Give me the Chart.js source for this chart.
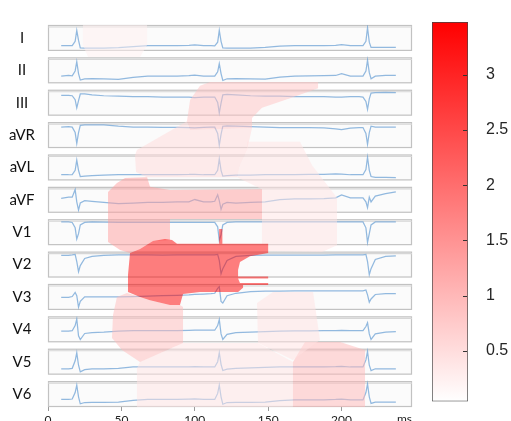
<!DOCTYPE html>
<html>
<head>
<meta charset="utf-8">
<script src="https://cdn.jsdelivr.net/npm/chart.js@4.4.1/dist/chart.umd.min.js"></script>
<style>
  html, body { margin: 0; padding: 0; background: #fff; overflow: hidden; }
  #wrap { position: relative; width: 511px; height: 421px; overflow: hidden; }
  #ecg { position: absolute; left: 0; top: 0; }
  #cbar { position: absolute; left: 420px; top: 0; }
</style>
</head>
<body>
<div id="wrap">
  <canvas id="ecg" width="420" height="430"></canvas>
  <canvas id="cbar" width="91" height="421"></canvas>
</div>
<script>
// 12-lead ECG with attribution segments on top, plus a colour bar
const leadNames = ['I', 'II', 'III', 'aVR', 'aVL', 'aVF', 'V1', 'V2', 'V3', 'V4', 'V5', 'V6'];
const xTicks = [0, 50, 100, 150, 200];

// sample times (ms) shared by all leads
const timeMs = [9, 14, 16.5, 18.5, 19.6, 20.8, 22, 25, 30, 38, 48, 58, 68, 78, 88, 96, 100, 106, 111, 113.6,
  115.6, 116.7, 117.9, 119.1, 122, 128, 138, 148, 158, 168, 178, 188, 196, 200, 206, 212, 214.6, 216.6,
  217.7, 218.9, 220.1, 223, 230, 237];

// lead amplitudes (mV)
const leadI = [0, 0, 0, 0.5, 1.75, 0.6, -0.25, -0.28, -0.28, -0.28, -0.22, -0.1, 0, 0, 0.02, 0.05, 0.08, 0, 0, -0.02,
  0.4, 1.75, 0.5, -0.25, -0.28, -0.28, -0.28, -0.2, -0.05, 0, 0, 0.02, 0.05, 0.12, 0, 0, 0, 0.5, 2.05, 0.4, -0.2, -0.18, -0.18, -0.18];
const leadII = [0, 0.1, 0.05, 0.6, 1.67, 0.3, -0.45, -0.3, -0.28, -0.3, -0.38, -0.15, 0, 0.02, 0.02, 0.05, 0.12, 0.02, 0, 0,
  0.5, 1.45, 0.3, -0.5, -0.3, -0.28, -0.3, -0.35, -0.1, 0.02, 0.03, 0.05, 0.08, 0.3, 0, 0.02, 0.02, 0.6, 1.85, 0.4, -0.3, 0, 0.1, 0.1];
const leadIII = [0, 0, -0.05, -0.5, -1.43, -0.6, 0.15, 0.15, 0.05, -0.05, -0.1, -0.15, -0.15, -0.2, -0.2, -0.2, -0.25, -0.2, -0.2, -0.2,
  -0.8, -2.0, -0.9, 0.05, 0.1, 0.05, -0.05, -0.1, -0.1, -0.15, -0.15, -0.15, -0.2, -0.2, -0.15, -0.15, -0.2, -0.7, -1.6, -0.4, 0.25, 0.3, 0.32, 0.3];
const leadAVR = [0, 0.05, 0, -0.6, -1.8, -0.6, 0.2, 0.25, 0.25, 0.25, 0.1, 0, 0, -0.03, -0.03, -0.05, -0.08, -0.02, 0, 0,
  -0.7, -2.0, -0.8, 0.1, 0.15, 0.1, 0.05, 0, -0.05, -0.05, -0.05, -0.08, -0.2, -0.28, -0.1, -0.05, -0.05, -0.7, -1.9, -0.6, 0.1, 0, 0, 0];
const leadAVL = [0, 0, 0.02, 0.5, 1.67, 0.5, -0.2, -0.15, -0.1, -0.05, 0, 0, 0.02, 0.02, 0.02, 0.03, 0.05, 0, 0, 0,
  0.5, 1.83, 0.5, -0.15, -0.1, -0.05, -0.03, 0, 0.02, 0.02, 0.03, 0.03, 0.1, 0.08, 0, 0, 0, 0.6, 2.0, 0.5, -0.2, -0.3, -0.3, -0.33];
const leadAVF = [0, 0.1, 0.1, 0.75, -0.3, -1.0, -0.4, -0.2, -0.25, -0.35, -0.45, -0.4, -0.35, -0.35, -0.3, -0.3, -0.1, -0.3, -0.3, -0.25,
  0.3, -0.2, -0.95, -0.5, -0.35, -0.4, -0.35, -0.3, -0.1, -0.05, -0.05, -0.02, 0.05, 0.3, 0.05, 0.05, 0.05, -0.3, -0.8, 0.1, -0.3, 0.2, 0.4, 0.55];
const leadV1 = [0, 0, -0.05, -0.6, -1.75, -1.2, -0.3, -0.05, 0, -0.02, -0.05, -0.05, -0.05, -0.05, -0.05, -0.05, -0.05, -0.05, -0.05, -0.05,
  -0.5, -1.9, -1.3, -0.3, -0.05, 0, 0, 0, 0, 0, 0, 0, 0, 0, 0, 0, 0, -0.6, -2.1, -1.2, -0.3, 0, 0, 0];
const leadV2 = [0, 0, 0.05, 0.1, -0.6, -1.6, -1.0, -0.3, -0.1, 0, 0.05, 0.05, 0.05, 0.03, 0.05, 0.05, 0.05, 0.05, 0.05, 0.05,
  0.1, -0.5, -1.8, -1.3, -0.5, -0.1, 0, 0.02, 0.02, 0.02, 0.02, 0.02, 0.05, 0.05, 0.05, 0.05, 0.05, 0.1, -0.6, -1.9, -1.3, -0.4, -0.1, -0.05];
const leadV3 = [0, 0, 0.1, 0.6, 0.2, -1.2, -0.5, 0.05, 0.05, 0.05, 0.05, 0.1, 0.15, 0.2, 0.25, 0.3, 0.35, 0.4, 0.45, 0.5,
  1.1, 1.3, -0.5, -0.7, 0.2, 0.5, 0.7, 0.75, 0.75, 0.78, 0.78, 0.8, 0.8, 0.8, 0.78, 0.78, 0.8, 0.9, 0.3, -0.6, -0.2, 0.35, 0.45, 0.45];
const leadV4 = [0, 0, 0.05, 0.6, 1.3, -0.5, -0.9, -0.25, -0.15, -0.1, 0, 0.05, 0.05, 0.05, 0.05, 0.08, 0.1, 0.1, 0.1, 0.1,
  0.6, 1.25, -0.3, -0.9, -0.35, -0.15, -0.1, -0.05, 0, 0.02, 0.03, 0.05, 0.05, 0.08, 0.05, 0.05, 0.05, 0.5, 0.9, -0.3, -0.9, -0.3, -0.1, -0.05];
const leadV5 = [0, 0, 0.05, 0.9, 1.8, 0.4, -0.35, -0.1, 0, 0, 0.05, 0.2, 0.2, 0.2, 0.2, 0.22, 0.25, 0.2, 0.2, 0.2,
  0.8, 1.8, 0.5, -0.2, -0.05, 0.05, 0.1, 0.15, 0.2, 0.2, 0.2, 0.22, 0.25, 0.28, 0.2, 0.2, 0.2, 1.0, 1.95, 0.4, -0.2, 0, 0, 0];
const leadV6 = [0, 0, 0.05, 0.8, 1.65, 0.3, -0.5, -0.35, -0.33, -0.33, -0.3, -0.1, 0, 0, 0, 0.05, 0.08, 0, 0, 0,
  0.7, 1.65, 0.3, -0.55, -0.35, -0.33, -0.33, -0.3, -0.12, -0.05, -0.05, -0.05, 0, 0.05, -0.05, -0.05, -0.05, 0.8, 1.8, 0.3, -0.45, -0.3, -0.3, -0.3];
const leadValues = [leadI, leadII, leadIII, leadAVR, leadAVL, leadAVF, leadV1, leadV2, leadV3, leadV4, leadV5, leadV6];

// attribution segments: outline as [ms, row] where row 0 is the top of lead I
const segA = [[55.9, 7.04], [62.7, 6.92], [71.5, 6.67], [79.7, 6.61], [84.5, 6.64], [87.9, 6.76], [116.6, 6.76], [116.6, 6.3],
  [118.8, 6.3], [118.8, 6.76], [150, 6.76], [150, 7.04], [137.6, 7.14], [130.8, 7.32], [129.5, 7.57], [129.5, 7.77],
  [150, 7.77], [150, 7.83], [129.5, 7.83], [130.8, 7.97], [150, 7.97], [150, 8.03], [132.9, 8.03], [132.9, 8.12],
  [129.5, 8.25], [103.6, 8.25], [92, 8.31], [89.9, 8.65], [83.1, 8.65], [69.5, 8.5], [62.7, 8.4], [54.5, 8.25], [54.5, 7.72]];
const segB = [[40.9, 5.16], [47, 4.88], [52.5, 4.73], [67.5, 4.7], [69.5, 5.0], [83.1, 5.1], [145.8, 5.07], [145.8, 5.99],
  [83.1, 5.99], [83.1, 6.64], [71.5, 6.67], [62.7, 6.92], [55.9, 7.04], [49.1, 6.95], [40.9, 6.7]];
const segC = [[135.6, 3.61], [171.7, 3.61], [179.9, 4.33], [196.9, 5.34], [196.9, 6.8], [186.7, 7.01], [150, 6.98], [150, 6.76],
  [145.8, 6.76], [145.8, 5.07], [128.8, 4.7], [130.8, 4.33], [135.6, 3.86]];
const segD = [[60.6, 3.86], [94.7, 2.97], [96.8, 3.24], [139, 3.18], [135.6, 3.86], [130.8, 4.33], [128.8, 4.7], [67.5, 4.7],
  [60, 4.54], [59.3, 4.02]];
const segE = [[103.6, 1.88], [110.4, 1.76], [184, 1.76], [184, 1.95], [164.9, 2.26], [145.8, 2.56], [139, 2.87], [139, 3.18],
  [96.8, 3.24], [94.7, 2.97], [96.8, 2.32]];
const segF = [[23.8, 0], [67.5, 0], [67.5, 0.62], [62.7, 0.99], [27.3, 0.99], [23.8, 0.62]];
const segG = [[47, 8.4], [53.8, 8.28], [62.7, 8.4], [69.5, 8.5], [83.1, 8.65], [89.9, 8.65], [92, 8.71], [92, 9.82],
  [62.7, 10.41], [50.4, 10.04], [43.6, 9.67], [44.3, 8.96]];
const segH = [[62.7, 10.41], [92, 9.82], [143.1, 9.82], [166.9, 10.41], [166.9, 11.8], [60.6, 11.8], [60.6, 10.6]];
const segI = [[142.4, 8.59], [153.3, 8.25], [180.6, 8.25], [185.3, 9.73], [166.9, 10.35], [143.1, 9.82]];
const segJ = [[166.9, 10.41], [175.1, 9.79], [199, 9.79], [216, 10.04], [216, 11.8], [166.9, 11.8]];
const segments = [segA, segB, segC, segD, segE, segF, segG, segH, segI, segJ];
const segWeights = [3.48, 1.35, 0.42, 0.55, 0.85, 0.25, 0.95, 0.4, 0.45, 1.0];

// colour bar range and ticks
const cbMin = 0.04;
const cbMax = 3.48;
const cbTicks = [0.5, 1, 1.5, 2, 2.5, 3];

const ROW_H = 0.8;     // panel height in row units (row pitch = 1)
const ROW_PAD = 0.085; // margin inside each panel
const Y_MAX = 11.8;
const X_MAX = 248;

function rowPoints(vals, row) {
  const lo = Math.min(...vals);
  const hi = Math.max(...vals);
  return vals.map((v, k) => ({
    x: timeMs[k],
    y: row + ROW_PAD + (hi - v) / (hi - lo) * (ROW_H - 2 * ROW_PAD)
  }));
}

function weightColor(w, alpha) {
  const t = Math.min(1, Math.max(0, (w - cbMin) / (cbMax - cbMin)));
  const gb = Math.round(255 * (1 - t));
  return `rgba(255,${gb},${gb},${alpha})`;
}

const ecgSets = leadValues.map((vals, i) => ({
  label: leadNames[i],
  data: rowPoints(vals, i),
  borderColor: 'rgba(105,160,212,0.72)',
  borderWidth: 1.25,
  pointRadius: 0,
  tension: 0,
  fill: false,
  order: 2
}));

const segSets = segments.map((poly, i) => ({
  label: 'seg' + i,
  data: poly.map(p => ({ x: p[0], y: p[1] })),
  backgroundColor: weightColor(segWeights[i], 0.5),
  borderColor: 'transparent',
  borderWidth: 0,
  pointRadius: 0,
  tension: 0,
  fill: 'shape',
  order: 1
}));

// panel boxes behind the traces, and the unit label next to the ticks
const leadPanels = {
  id: 'leadPanels',
  beforeDatasetsDraw(chart) {
    const { ctx, chartArea, scales: { y } } = chart;
    ctx.save();
    leadNames.forEach((name, i) => {
      const top = y.getPixelForValue(i);
      const bottom = y.getPixelForValue(i + ROW_H);
      ctx.fillStyle = '#fbfbfb';
      ctx.fillRect(chartArea.left, top, chartArea.right - chartArea.left, bottom - top);
      ctx.strokeStyle = '#c2c2c2';
      ctx.lineWidth = 1.2;
      ctx.strokeRect(chartArea.left + 0.5, top + 0.5, chartArea.right - chartArea.left - 1, bottom - top - 1);
      ctx.strokeStyle = '#d6d6d6';
      ctx.beginPath();
      ctx.moveTo(chartArea.left, top + 2);
      ctx.lineTo(chartArea.right, top + 2);
      ctx.stroke();
    });
    ctx.restore();
  },
  afterDraw(chart) {
    const { ctx, chartArea } = chart;
    ctx.save();
    ctx.font = '12px Lato';
    ctx.fillStyle = '#222';
    ctx.textAlign = 'right';
    ctx.textBaseline = 'top';
    ctx.fillText('ms', chartArea.right, chartArea.bottom + 6);
    ctx.restore();
  }
};

new Chart(document.getElementById('ecg'), {
  type: 'line',
  data: { datasets: [...segSets, ...ecgSets] },
  options: {
    responsive: false,
    animation: false,
    events: [],
    layout: { padding: { left: 8, right: 8, top: 25, bottom: 3 } },
    plugins: { legend: { display: false }, tooltip: { enabled: false } },
    scales: {
      x: {
        type: 'linear',
        min: 0,
        max: X_MAX,
        afterBuildTicks: s => { s.ticks = xTicks.map(v => ({ value: v })); },
        afterFit: s => { s.height = 20; },
        ticks: { color: '#222', font: { family: 'Lato', size: 12 }, padding: 2, maxRotation: 0, autoSkip: false },
        grid: { drawOnChartArea: false, tickLength: 4, color: '#999' },
        border: { display: false }
      },
      y: {
        type: 'linear',
        reverse: true,
        min: 0,
        max: Y_MAX,
        afterBuildTicks: s => { s.ticks = leadNames.map((n, i) => ({ value: i + ROW_H / 2 })); },
        afterFit: s => { s.width = 40; },
        ticks: {
          callback: (v, i) => leadNames[i],
          color: '#111',
          font: { family: 'Lato', size: 15 },
          crossAlign: 'center',
          padding: 5,
          autoSkip: false
        },
        grid: { display: false },
        border: { display: false }
      }
    }
  },
  plugins: [leadPanels]
});

// colour bar
const cbarTicks = {
  id: 'cbarTicks',
  afterDatasetsDraw(chart) {
    const { ctx, chartArea, scales: { y } } = chart;
    ctx.save();
    ctx.strokeStyle = '#333';
    ctx.lineWidth = 1;
    cbTicks.forEach(v => {
      const py = Math.round(y.getPixelForValue(v)) + 0.5;
      ctx.beginPath();
      ctx.moveTo(chartArea.right - 1, py);
      ctx.lineTo(chartArea.right - 5, py);
      ctx.stroke();
    });
    ctx.restore();
  }
};

new Chart(document.getElementById('cbar'), {
  type: 'bar',
  data: {
    labels: ['w'],
    datasets: [{
      data: [[cbMin, cbMax]],
      backgroundColor: (c) => {
        const { chart } = c;
        if (!chart.chartArea) return '#fff';
        const y = chart.scales.y;
        const g = chart.ctx.createLinearGradient(0, y.getPixelForValue(cbMin), 0, y.getPixelForValue(cbMax));
        g.addColorStop(0, weightColor(cbMin, 1));
        g.addColorStop(1, weightColor(cbMax, 1));
        return g;
      },
      borderColor: '#444',
      borderWidth: 1,
      borderSkipped: false,
      barPercentage: 1,
      categoryPercentage: 1
    }]
  },
  options: {
    responsive: false,
    animation: false,
    events: [],
    layout: { padding: { left: 12, right: 0, top: 22, bottom: 14 } },
    plugins: { legend: { display: false }, tooltip: { enabled: false } },
    scales: {
      x: { display: false },
      y: {
        position: 'right',
        min: cbMin,
        max: cbMax,
        afterBuildTicks: s => { s.ticks = cbTicks.map(v => ({ value: v })); },
        afterFit: s => { s.width = 43; },
        ticks: {
          callback: v => String(v),
          color: '#262626',
          font: { family: 'Liberation Sans', size: 16 },
          padding: 10
        },
        grid: { display: false },
        border: { display: false }
      }
    }
  },
  plugins: [cbarTicks]
});
</script>
</body>
</html>
